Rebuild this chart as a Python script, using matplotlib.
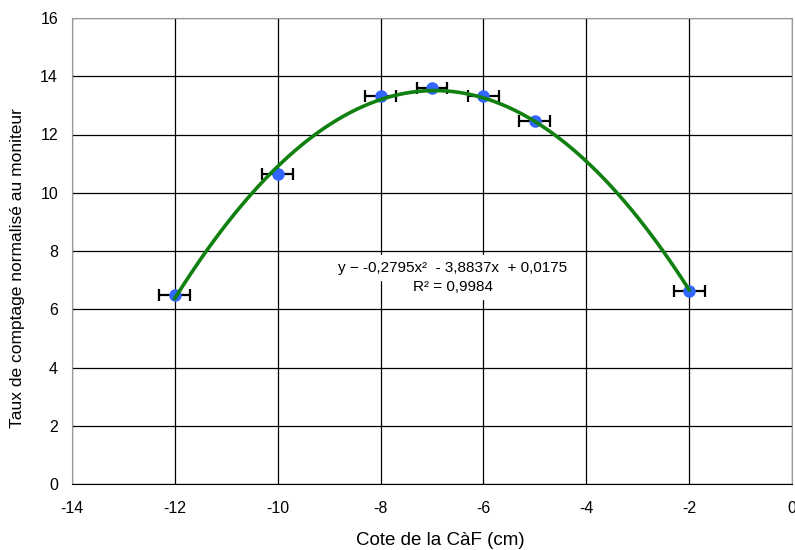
import numpy as np
import matplotlib
matplotlib.use("Agg")
import matplotlib.pyplot as plt

plt.rcParams['font.family'] = ['Liberation Sans', 'DejaVu Sans']
plt.rcParams['axes.unicode_minus'] = False

x_pos = [-12, -10, -8, -7, -6, -5, -2]
rate = [6.48, 10.65, 13.32, 13.6, 13.32, 12.47, 6.63]
x_err = [0.3, 0.3, 0.3, 0.3, 0.3, 0.3, 0.3]
coef = [-0.2795, -3.8837, 0.0175]
x_ticks = [-14, -12, -10, -8, -6, -4, -2, 0]
y_ticks = [0, 2, 4, 6, 8, 10, 12, 14, 16]

fig = plt.figure(figsize=(7.95, 5.5), dpi=100)
ax = fig.add_axes([72/795, 66/550, 720/795, 466/550])

ax.set_xlim(-14, 0)
ax.set_ylim(0, 16)
ax.set_xticks(x_ticks)
ax.set_yticks(y_ticks)
ax.grid(True, color='black', linewidth=0.9)
ax.set_axisbelow(True)
for s in ['top', 'right', 'left']:
    ax.spines[s].set_color('#999999')
ax.spines['bottom'].set_color('black')
ax.tick_params(length=0, labelsize=11.5)
ax.tick_params(axis='x', pad=12)
ax.tick_params(axis='y', pad=10)

xx = np.linspace(min(x_pos), max(x_pos), 300)
yy = np.polyval(coef, xx)

ax.errorbar(x_pos, rate, xerr=x_err, fmt='none', ecolor='black', elinewidth=1.6,
            capsize=4, capthick=1.6, zorder=3)
ax.plot(x_pos, rate, 'o', color='#3366ff', markersize=8, zorder=4)
ax.plot(xx, yy, color='#108010', linewidth=2.6, zorder=5)

ax.text(-6.6, 7.42, 'y − -0,2795x²  - 3,8837x  + 0,0175', ha='center', va='center', fontsize=11,
        backgroundcolor='white', zorder=6)
ax.text(-6.6, 6.77, 'R² = 0,9984', ha='center', va='center', fontsize=11,
        backgroundcolor='white', zorder=6)

ax.set_xlabel('Cote de la CàF (cm)', fontsize=13.5, va='center')
ax.xaxis.set_label_coords(0.511, -0.122)
ax.set_ylabel('Taux de comptage normalisé au moniteur', fontsize=12.5, va='center')
ax.yaxis.set_label_coords(-0.075, 0.4635)

fig.savefig('out.png', dpi=100)
